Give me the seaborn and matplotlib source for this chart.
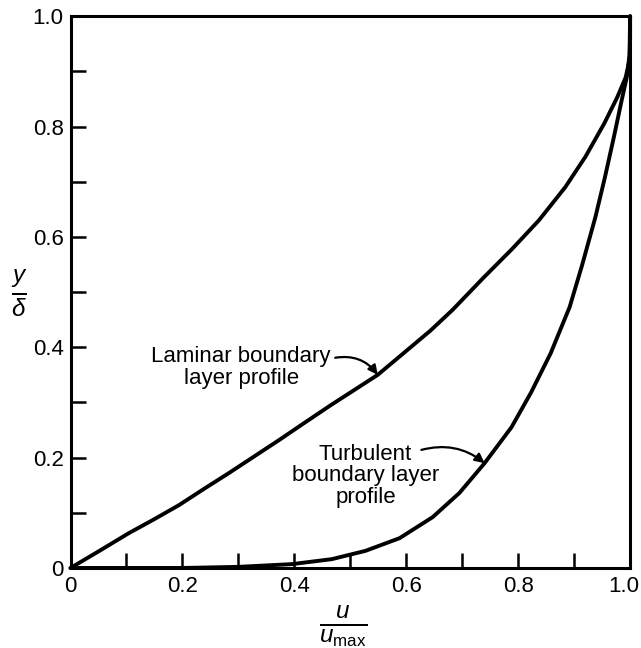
import matplotlib
matplotlib.use("Agg")
import matplotlib.pyplot as plt
import matplotlib.transforms as mtransforms
import seaborn as sns
import pandas as pd
from matplotlib.ticker import MultipleLocator, FixedLocator, FixedFormatter

# ---- data ----
laminar_u = [0.0, 0.05, 0.104, 0.149, 0.194, 0.238, 0.283, 0.328, 0.373, 0.418,
             0.465, 0.549, 0.643, 0.683, 0.737, 0.789, 0.837, 0.884, 0.920,
             0.954, 0.977, 0.992, 0.999, 1.0, 1.0]
laminar_y = [0.0, 0.030, 0.063, 0.088, 0.114, 0.143, 0.172, 0.202, 0.232, 0.263,
             0.295, 0.350, 0.430, 0.468, 0.525, 0.578, 0.630, 0.690, 0.745,
             0.806, 0.853, 0.889, 0.920, 0.960, 1.0]

turbulent_u = [0.0, 0.2, 0.3, 0.396, 0.467, 0.527, 0.588, 0.647, 0.695, 0.740,
               0.788, 0.823, 0.858, 0.892, 0.914, 0.938, 0.955, 0.971, 0.985,
               0.994, 0.999, 1.0]
turbulent_y = [0.0, 0.0, 0.002, 0.007, 0.016, 0.031, 0.054, 0.092, 0.136, 0.190,
               0.255, 0.318, 0.389, 0.473, 0.548, 0.636, 0.708, 0.781, 0.848,
               0.889, 0.930, 1.0]

tick_values = [0.0, 0.2, 0.4, 0.6, 0.8, 1.0]
x_tick_labels = ["0", "0.2", "0.4", "0.6", "0.8", "1.0"]
y_tick_labels = ["0", "0.2", "0.4", "0.6", "0.8", "1.0"]

laminar_label = "Laminar boundary\nlayer profile"
turbulent_label = "Turbulent\nboundary layer\nprofile"

df = pd.concat([
    pd.DataFrame({"u": laminar_u, "y": laminar_y, "profile": "laminar"}),
    pd.DataFrame({"u": turbulent_u, "y": turbulent_y, "profile": "turbulent"}),
], ignore_index=True)

sns.set_theme(style="white")
plt.rcParams["font.family"] = ["Liberation Sans", "DejaVu Sans"]
plt.rcParams["text.color"] = "black"
plt.rcParams["mathtext.fontset"] = "custom"
plt.rcParams["mathtext.it"] = "Liberation Sans:italic"
plt.rcParams["mathtext.rm"] = "Liberation Sans"

fig = plt.figure(figsize=(6.41, 6.48), dpi=100)
ax = fig.add_axes([0.110, 0.1235, 0.873, 0.8515])

sns.lineplot(data=df, x="u", y="y", hue="profile", units="profile",
             estimator=None, sort=False, palette=["black", "black"],
             linewidth=2.8, legend=False, ax=ax)
for ln in ax.lines:
    ln.set_clip_on(False)
    ln.set_solid_capstyle("round")
    ln.set_solid_joinstyle("round")

ax.set_xlim(0, 1)
ax.set_ylim(0, 1)
ax.set_xlabel("")
ax.set_ylabel("")

ax.xaxis.set_major_locator(FixedLocator(tick_values))
ax.xaxis.set_major_formatter(FixedFormatter(x_tick_labels))
ax.yaxis.set_major_locator(FixedLocator(tick_values))
ax.yaxis.set_major_formatter(FixedFormatter(y_tick_labels))
ax.xaxis.set_minor_locator(MultipleLocator(0.1))
ax.yaxis.set_minor_locator(MultipleLocator(0.1))

ax.tick_params(which="both", direction="in", length=11, width=1.8,
               color="black", bottom=True, left=True, top=False, right=False)
ax.tick_params(axis="x", which="major", labelsize=16, pad=6, labelcolor="black")
ax.tick_params(axis="y", which="major", labelsize=16, pad=5, labelcolor="black")

for sp in ax.spines.values():
    sp.set_visible(True)
    sp.set_color("black")
    sp.set_linewidth(2.2)

# shift the last x tick label slightly left so it stays inside the figure
last = ax.get_xticklabels()[-1]
last.set_transform(last.get_transform() +
                   mtransforms.ScaledTranslation(-6 / 100, 0, fig.dpi_scale_trans))

# annotations
ax.text(0.305, 0.363, laminar_label, ha="center", va="center",
        fontsize=16, linespacing=1.05, color="black")
ax.annotate("", xy=(0.549, 0.350), xytext=(0.473, 0.381),
            arrowprops=dict(arrowstyle="-|>", color="black", lw=1.6,
                            mutation_scale=14, shrinkA=0, shrinkB=0,
                            connectionstyle="arc3,rad=-0.3"))

ax.text(0.527, 0.167, turbulent_label, ha="center", va="center",
        fontsize=16, linespacing=1.05, color="black")
ax.annotate("", xy=(0.740, 0.190), xytext=(0.627, 0.214),
            arrowprops=dict(arrowstyle="-|>", color="black", lw=1.6,
                            mutation_scale=14, shrinkA=0, shrinkB=0,
                            connectionstyle="arc3,rad=-0.25"))

# axis labels as fractions
fig.text(19 / 641, 1 - 293 / 648, r"$\frac{y}{\delta}$", ha="center",
         va="center", fontsize=25, color="black")
fig.text(343 / 641, 1 - 626 / 648, r"$\frac{u}{u_{\mathrm{max}}}$", ha="center",
         va="center", fontsize=25, color="black")

fig.savefig("out.png", dpi=100, facecolor="white")
